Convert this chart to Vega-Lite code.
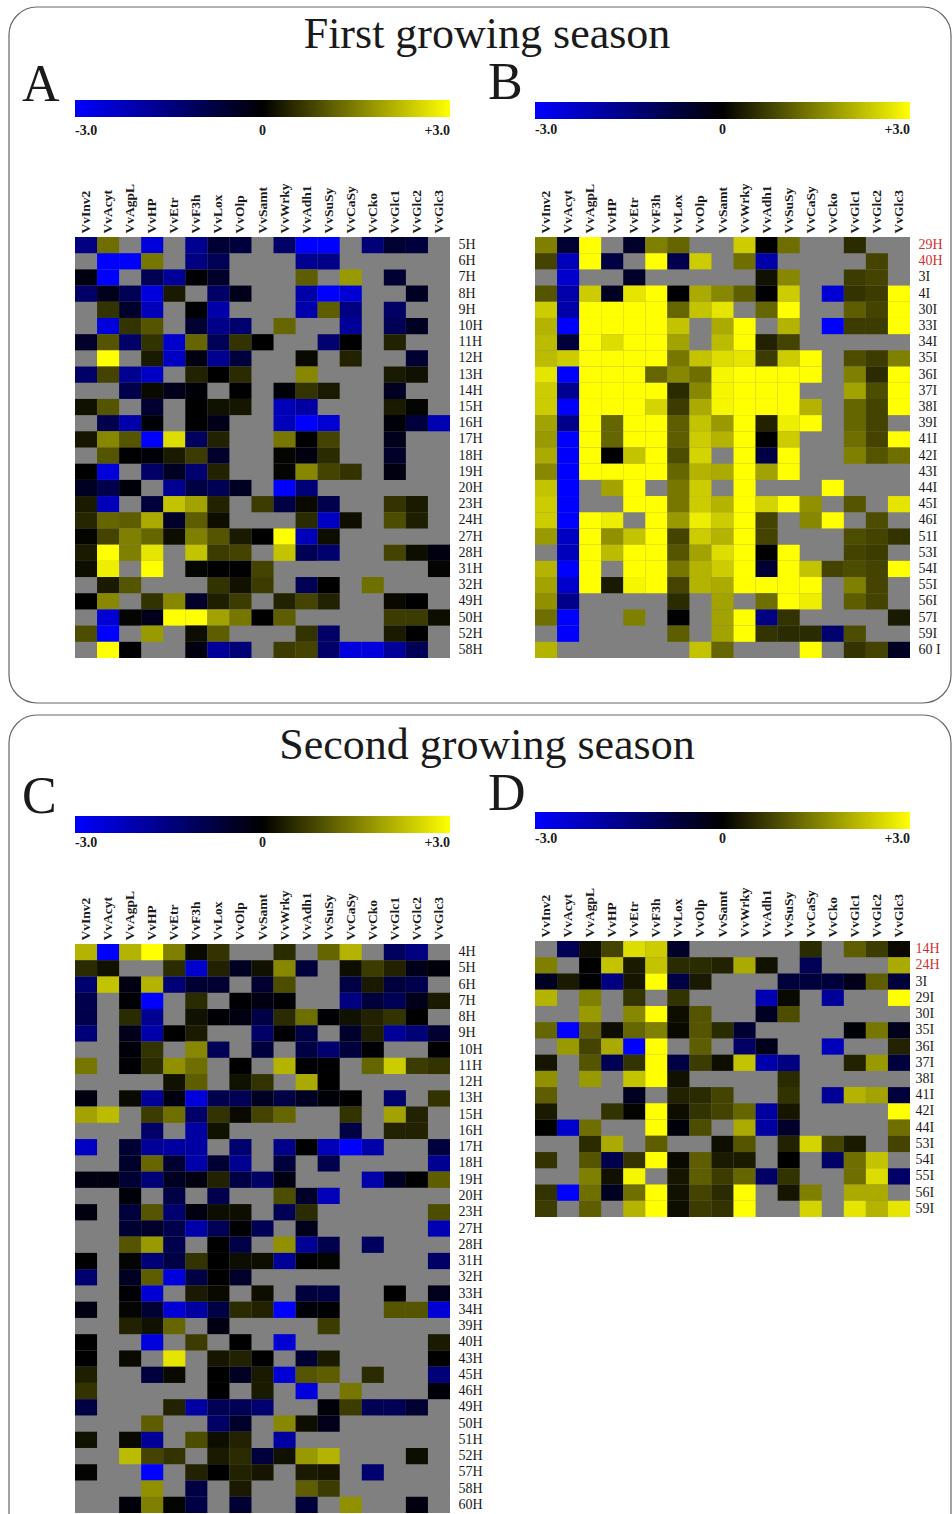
{"$schema":"https://vega.github.io/schema/vega-lite/v6.json","autosize":{"type":"none"},"padding":{"left":75,"top":237,"right":877,"bottom":1277},"background":"white","config":{"view":{"stroke":null},"font":"Liberation Serif","axis":{"title":null,"ticks":false,"domain":false,"grid":false,"labelFont":"Liberation Serif","labelColor":"#1a1a1a","labelOverlap":false},"axisX":{"labelAngle":-90,"labelFontWeight":"bold","labelFontSize":13.5,"labelPadding":4,"labelAlign":"left","labelBaseline":"middle"},"axisY":{"labelFontSize":14,"labelPadding":8},"legend":{"orient":"none","direction":"horizontal","gradientLength":375,"gradientThickness":17,"title":null,"labelFont":"Liberation Serif","labelFontWeight":"bold","labelFontSize":14,"labelColor":"#1a1a1a","gradientStrokeWidth":0},"title":{"font":"Liberation Serif","fontWeight":"normal","color":"#1a1a1a"}},
"datasets":{
"A":[{"g":"VvInv2","r":"5H","v":-1.5},{"g":"VvAcyt","r":"5H","v":1.3},{"g":"VvHP","r":"5H","v":-2.6},{"g":"VvF3h","r":"5H","v":-1.7},{"g":"VvLox","r":"5H","v":-0.6},{"g":"VvOlp","r":"5H","v":-0.7},{"g":"VvWrky","r":"5H","v":-1.2},{"g":"VvAdh1","r":"5H","v":-3},{"g":"VvSuSy","r":"5H","v":-3},{"g":"VvCko","r":"5H","v":-1.4},{"g":"VvGlc1","r":"5H","v":-0.6},{"g":"VvGlc2","r":"5H","v":-0.7},
{"g":"VvAcyt","r":"6H","v":-3},{"g":"VvAgpL","r":"6H","v":-3},{"g":"VvHP","r":"6H","v":1.4},{"g":"VvF3h","r":"6H","v":-1.5},{"g":"VvLox","r":"6H","v":-1},{"g":"VvAdh1","r":"6H","v":-1.7},{"g":"VvSuSy","r":"6H","v":-1.6},
{"g":"VvInv2","r":"7H","v":-0.2},{"g":"VvAcyt","r":"7H","v":-3},{"g":"VvHP","r":"7H","v":-1},{"g":"VvEtr","r":"7H","v":-1.8},{"g":"VvF3h","r":"7H","v":-0.05},{"g":"VvLox","r":"7H","v":-0.5},{"g":"VvAdh1","r":"7H","v":1.1},{"g":"VvCaSy","r":"7H","v":1.8},{"g":"VvGlc1","r":"7H","v":-0.6},
{"g":"VvInv2","r":"8H","v":-1.2},{"g":"VvAcyt","r":"8H","v":-0.3},{"g":"VvAgpL","r":"8H","v":-1},{"g":"VvHP","r":"8H","v":-2.6},{"g":"VvEtr","r":"8H","v":0.3},{"g":"VvLox","r":"8H","v":-1.2},{"g":"VvOlp","r":"8H","v":-0.3},{"g":"VvAdh1","r":"8H","v":-2},{"g":"VvSuSy","r":"8H","v":-3},{"g":"VvCaSy","r":"8H","v":-2.5},{"g":"VvGlc2","r":"8H","v":-0.4},
{"g":"VvAcyt","r":"9H","v":0.6},{"g":"VvAgpL","r":"9H","v":-0.5},{"g":"VvHP","r":"9H","v":-2.2},{"g":"VvF3h","r":"9H","v":0},{"g":"VvLox","r":"9H","v":-2},{"g":"VvAdh1","r":"9H","v":-2},{"g":"VvSuSy","r":"9H","v":1.1},{"g":"VvCaSy","r":"9H","v":-1.5},{"g":"VvGlc1","r":"9H","v":-1.2},
{"g":"VvAcyt","r":"10H","v":-2.6},{"g":"VvAgpL","r":"10H","v":0.6},{"g":"VvHP","r":"10H","v":1},{"g":"VvF3h","r":"10H","v":-0.6},{"g":"VvLox","r":"10H","v":-1.6},{"g":"VvOlp","r":"10H","v":-1.3},{"g":"VvWrky","r":"10H","v":1.2},{"g":"VvCaSy","r":"10H","v":-1.8},{"g":"VvGlc1","r":"10H","v":-1},{"g":"VvGlc2","r":"10H","v":-0.4},
{"g":"VvInv2","r":"11H","v":-0.5},{"g":"VvAcyt","r":"11H","v":1},{"g":"VvAgpL","r":"11H","v":-1.2},{"g":"VvHP","r":"11H","v":0.6},{"g":"VvEtr","r":"11H","v":-2.4},{"g":"VvF3h","r":"11H","v":1.2},{"g":"VvLox","r":"11H","v":-1},{"g":"VvOlp","r":"11H","v":0.6},{"g":"VvSamt","r":"11H","v":0},{"g":"VvSuSy","r":"11H","v":-1.3},{"g":"VvCaSy","r":"11H","v":0},{"g":"VvGlc1","r":"11H","v":0.4},
{"g":"VvAcyt","r":"12H","v":3},{"g":"VvHP","r":"12H","v":0.3},{"g":"VvEtr","r":"12H","v":-2.3},{"g":"VvF3h","r":"12H","v":-0.2},{"g":"VvLox","r":"12H","v":-1.7},{"g":"VvOlp","r":"12H","v":-0.7},{"g":"VvAdh1","r":"12H","v":0.1},{"g":"VvCaSy","r":"12H","v":0.4},{"g":"VvGlc2","r":"12H","v":-0.6},
{"g":"VvInv2","r":"13H","v":-1.2},{"g":"VvAcyt","r":"13H","v":0.8},{"g":"VvAgpL","r":"13H","v":-1.7},{"g":"VvHP","r":"13H","v":-2.3},{"g":"VvF3h","r":"13H","v":0.4},{"g":"VvLox","r":"13H","v":0},{"g":"VvOlp","r":"13H","v":0.5},{"g":"VvAdh1","r":"13H","v":1.6},{"g":"VvGlc1","r":"13H","v":0.3},{"g":"VvGlc2","r":"13H","v":0.2},
{"g":"VvAgpL","r":"14H","v":-0.9},{"g":"VvHP","r":"14H","v":0.1},{"g":"VvEtr","r":"14H","v":-0.3},{"g":"VvF3h","r":"14H","v":-0.1},{"g":"VvOlp","r":"14H","v":0},{"g":"VvWrky","r":"14H","v":-0.1},{"g":"VvAdh1","r":"14H","v":0.6},{"g":"VvSuSy","r":"14H","v":0.3},{"g":"VvGlc1","r":"14H","v":-0.4},
{"g":"VvInv2","r":"15H","v":0.2},{"g":"VvAcyt","r":"15H","v":1},{"g":"VvHP","r":"15H","v":-0.6},{"g":"VvF3h","r":"15H","v":0},{"g":"VvLox","r":"15H","v":0.2},{"g":"VvOlp","r":"15H","v":0.25},{"g":"VvWrky","r":"15H","v":-2.2},{"g":"VvAdh1","r":"15H","v":-1.9},{"g":"VvGlc1","r":"15H","v":0.3},{"g":"VvGlc2","r":"15H","v":0.05},
{"g":"VvAcyt","r":"16H","v":-0.9},{"g":"VvAgpL","r":"16H","v":-2},{"g":"VvHP","r":"16H","v":-0.1},{"g":"VvF3h","r":"16H","v":0},{"g":"VvLox","r":"16H","v":-0.3},{"g":"VvWrky","r":"16H","v":-2.2},{"g":"VvAdh1","r":"16H","v":-3},{"g":"VvSuSy","r":"16H","v":-2.5},{"g":"VvGlc1","r":"16H","v":-0.1},{"g":"VvGlc2","r":"16H","v":-0.7},{"g":"VvGlc3","r":"16H","v":-2.1},
{"g":"VvInv2","r":"17H","v":0.25},{"g":"VvAcyt","r":"17H","v":1.6},{"g":"VvAgpL","r":"17H","v":1},{"g":"VvHP","r":"17H","v":-3},{"g":"VvEtr","r":"17H","v":2.6},{"g":"VvF3h","r":"17H","v":-1.1},{"g":"VvLox","r":"17H","v":0.4},{"g":"VvWrky","r":"17H","v":1.4},{"g":"VvAdh1","r":"17H","v":0},{"g":"VvSuSy","r":"17H","v":0.8},{"g":"VvGlc1","r":"17H","v":-0.3},
{"g":"VvAcyt","r":"18H","v":1},{"g":"VvAgpL","r":"18H","v":0},{"g":"VvHP","r":"18H","v":-0.1},{"g":"VvEtr","r":"18H","v":0.3},{"g":"VvF3h","r":"18H","v":0.7},{"g":"VvLox","r":"18H","v":-0.5},{"g":"VvWrky","r":"18H","v":0.05},{"g":"VvAdh1","r":"18H","v":-0.2},{"g":"VvSuSy","r":"18H","v":0.5},{"g":"VvGlc1","r":"18H","v":-0.5},
{"g":"VvInv2","r":"19H","v":0},{"g":"VvAcyt","r":"19H","v":-2.6},{"g":"VvHP","r":"19H","v":-1.2},{"g":"VvEtr","r":"19H","v":-0.4},{"g":"VvF3h","r":"19H","v":-1.3},{"g":"VvLox","r":"19H","v":0.4},{"g":"VvWrky","r":"19H","v":0.05},{"g":"VvAdh1","r":"19H","v":1.6},{"g":"VvSuSy","r":"19H","v":0.8},{"g":"VvCaSy","r":"19H","v":0.6},{"g":"VvGlc1","r":"19H","v":-0.2},
{"g":"VvInv2","r":"20H","v":-0.4},{"g":"VvAcyt","r":"20H","v":-0.9},{"g":"VvAgpL","r":"20H","v":-0.1},{"g":"VvEtr","r":"20H","v":-1.7},{"g":"VvF3h","r":"20H","v":-0.8},{"g":"VvLox","r":"20H","v":-1},{"g":"VvOlp","r":"20H","v":-0.4},{"g":"VvWrky","r":"20H","v":-3},{"g":"VvAdh1","r":"20H","v":-1.4},
{"g":"VvInv2","r":"23H","v":0.3},{"g":"VvAcyt","r":"23H","v":-2.2},{"g":"VvHP","r":"23H","v":-0.7},{"g":"VvEtr","r":"23H","v":2.3},{"g":"VvF3h","r":"23H","v":1.9},{"g":"VvLox","r":"23H","v":0.4},{"g":"VvSamt","r":"23H","v":0.7},{"g":"VvWrky","r":"23H","v":-0.8},{"g":"VvAdh1","r":"23H","v":0.1},{"g":"VvSuSy","r":"23H","v":-0.9},{"g":"VvGlc1","r":"23H","v":0.6},{"g":"VvGlc2","r":"23H","v":0.3},
{"g":"VvInv2","r":"24H","v":0.45},{"g":"VvAcyt","r":"24H","v":1.2},{"g":"VvAgpL","r":"24H","v":1.1},{"g":"VvHP","r":"24H","v":2},{"g":"VvEtr","r":"24H","v":-0.5},{"g":"VvF3h","r":"24H","v":1.1},{"g":"VvLox","r":"24H","v":0.15},{"g":"VvAdh1","r":"24H","v":0.5},{"g":"VvSuSy","r":"24H","v":-2.3},{"g":"VvCaSy","r":"24H","v":0.15},{"g":"VvGlc1","r":"24H","v":0.9},{"g":"VvGlc2","r":"24H","v":0.35},
{"g":"VvInv2","r":"27H","v":0.05},{"g":"VvAcyt","r":"27H","v":0.8},{"g":"VvAgpL","r":"27H","v":1.5},{"g":"VvHP","r":"27H","v":1.2},{"g":"VvEtr","r":"27H","v":0.15},{"g":"VvF3h","r":"27H","v":1.5},{"g":"VvLox","r":"27H","v":1},{"g":"VvOlp","r":"27H","v":0.3},{"g":"VvSamt","r":"27H","v":0},{"g":"VvWrky","r":"27H","v":3},{"g":"VvAdh1","r":"27H","v":-2.2},{"g":"VvSuSy","r":"27H","v":0.15},
{"g":"VvInv2","r":"28H","v":0.3},{"g":"VvAcyt","r":"28H","v":3},{"g":"VvAgpL","r":"28H","v":1.5},{"g":"VvHP","r":"28H","v":2.7},{"g":"VvF3h","r":"28H","v":2.3},{"g":"VvLox","r":"28H","v":0.7},{"g":"VvOlp","r":"28H","v":0.8},{"g":"VvWrky","r":"28H","v":2.3},{"g":"VvAdh1","r":"28H","v":-1},{"g":"VvSuSy","r":"28H","v":-1.3},{"g":"VvGlc1","r":"28H","v":0.8},{"g":"VvGlc2","r":"28H","v":0.15},{"g":"VvGlc3","r":"28H","v":-0.2},
{"g":"VvInv2","r":"31H","v":0.15},{"g":"VvAcyt","r":"31H","v":2.8},{"g":"VvHP","r":"31H","v":3},{"g":"VvF3h","r":"31H","v":0.05},{"g":"VvLox","r":"31H","v":0},{"g":"VvOlp","r":"31H","v":0},{"g":"VvSamt","r":"31H","v":0.8},{"g":"VvGlc3","r":"31H","v":0.05},
{"g":"VvAcyt","r":"32H","v":0.3},{"g":"VvAgpL","r":"32H","v":1},{"g":"VvLox","r":"32H","v":0.6},{"g":"VvOlp","r":"32H","v":0.2},{"g":"VvSamt","r":"32H","v":0.7},{"g":"VvAdh1","r":"32H","v":-1},{"g":"VvSuSy","r":"32H","v":0},{"g":"VvCko","r":"32H","v":1.3},
{"g":"VvInv2","r":"49H","v":0},{"g":"VvAcyt","r":"49H","v":1.6},{"g":"VvHP","r":"49H","v":0.6},{"g":"VvEtr","r":"49H","v":1.6},{"g":"VvF3h","r":"49H","v":-0.5},{"g":"VvLox","r":"49H","v":0.35},{"g":"VvOlp","r":"49H","v":0.7},{"g":"VvWrky","r":"49H","v":0.4},{"g":"VvAdh1","r":"49H","v":0.8},{"g":"VvSuSy","r":"49H","v":0.4},{"g":"VvGlc1","r":"49H","v":0.1},{"g":"VvGlc2","r":"49H","v":0},
{"g":"VvAcyt","r":"50H","v":-2.5},{"g":"VvAgpL","r":"50H","v":0.05},{"g":"VvHP","r":"50H","v":-0.3},{"g":"VvEtr","r":"50H","v":3},{"g":"VvF3h","r":"50H","v":3},{"g":"VvLox","r":"50H","v":1.9},{"g":"VvOlp","r":"50H","v":1.4},{"g":"VvSamt","r":"50H","v":0},{"g":"VvWrky","r":"50H","v":1.1},{"g":"VvGlc1","r":"50H","v":0.7},{"g":"VvGlc2","r":"50H","v":0.7},{"g":"VvGlc3","r":"50H","v":0.15},
{"g":"VvInv2","r":"52H","v":0.9},{"g":"VvAcyt","r":"52H","v":-3},{"g":"VvHP","r":"52H","v":1.8},{"g":"VvF3h","r":"52H","v":0.15},{"g":"VvLox","r":"52H","v":1.1},{"g":"VvAdh1","r":"52H","v":0.6},{"g":"VvSuSy","r":"52H","v":-1.2},{"g":"VvGlc1","r":"52H","v":0.3},{"g":"VvGlc2","r":"52H","v":0},
{"g":"VvAcyt","r":"58H","v":3},{"g":"VvAgpL","r":"58H","v":0},{"g":"VvF3h","r":"58H","v":-0.2},{"g":"VvLox","r":"58H","v":-1.8},{"g":"VvOlp","r":"58H","v":-1.4},{"g":"VvWrky","r":"58H","v":0.7},{"g":"VvAdh1","r":"58H","v":0.8},{"g":"VvSuSy","r":"58H","v":-1.2},{"g":"VvCaSy","r":"58H","v":-2.6},{"g":"VvCko","r":"58H","v":-2.6},{"g":"VvGlc1","r":"58H","v":-1.8},{"g":"VvGlc2","r":"58H","v":-1}],
"B":[{"g":"VvInv2","r":"29H","v":1.5},{"g":"VvAcyt","r":"29H","v":-0.6},{"g":"VvAgpL","r":"29H","v":3},{"g":"VvEtr","r":"29H","v":-0.5},{"g":"VvF3h","r":"29H","v":1.5},{"g":"VvLox","r":"29H","v":1.2},{"g":"VvWrky","r":"29H","v":2.4},{"g":"VvAdh1","r":"29H","v":0},{"g":"VvSuSy","r":"29H","v":1.3},{"g":"VvGlc1","r":"29H","v":0.5},
{"g":"VvInv2","r":"40H","v":0.8},{"g":"VvAcyt","r":"40H","v":-2.2},{"g":"VvAgpL","r":"40H","v":3},{"g":"VvHP","r":"40H","v":-0.8},{"g":"VvF3h","r":"40H","v":3},{"g":"VvLox","r":"40H","v":-0.9},{"g":"VvOlp","r":"40H","v":2.4},{"g":"VvWrky","r":"40H","v":1.3},{"g":"VvAdh1","r":"40H","v":-2},{"g":"VvGlc2","r":"40H","v":0.8},
{"g":"VvAcyt","r":"3I","v":-2.4},{"g":"VvEtr","r":"3I","v":-0.5},{"g":"VvAdh1","r":"3I","v":0.2},{"g":"VvSuSy","r":"3I","v":1.6},{"g":"VvGlc1","r":"3I","v":0.7},{"g":"VvGlc2","r":"3I","v":0.8},
{"g":"VvInv2","r":"4I","v":1},{"g":"VvAcyt","r":"4I","v":-2},{"g":"VvAgpL","r":"4I","v":2.4},{"g":"VvHP","r":"4I","v":-0.4},{"g":"VvEtr","r":"4I","v":2.7},{"g":"VvF3h","r":"4I","v":3},{"g":"VvLox","r":"4I","v":0},{"g":"VvOlp","r":"4I","v":2},{"g":"VvSamt","r":"4I","v":1.6},{"g":"VvWrky","r":"4I","v":1.1},{"g":"VvAdh1","r":"4I","v":0},{"g":"VvSuSy","r":"4I","v":2.4},{"g":"VvCko","r":"4I","v":-2.5},{"g":"VvGlc1","r":"4I","v":0.6},{"g":"VvGlc2","r":"4I","v":0.7},{"g":"VvGlc3","r":"4I","v":3},
{"g":"VvInv2","r":"30I","v":2.4},{"g":"VvAcyt","r":"30I","v":-2},{"g":"VvAgpL","r":"30I","v":3},{"g":"VvHP","r":"30I","v":3},{"g":"VvEtr","r":"30I","v":3},{"g":"VvF3h","r":"30I","v":3},{"g":"VvLox","r":"30I","v":1.2},{"g":"VvOlp","r":"30I","v":2.3},{"g":"VvSamt","r":"30I","v":2.7},{"g":"VvAdh1","r":"30I","v":1.2},{"g":"VvSuSy","r":"30I","v":3},{"g":"VvGlc1","r":"30I","v":1.1},{"g":"VvGlc2","r":"30I","v":0.8},{"g":"VvGlc3","r":"30I","v":3},
{"g":"VvInv2","r":"33I","v":2.1},{"g":"VvAcyt","r":"33I","v":-3},{"g":"VvAgpL","r":"33I","v":3},{"g":"VvHP","r":"33I","v":3},{"g":"VvEtr","r":"33I","v":3},{"g":"VvF3h","r":"33I","v":3},{"g":"VvLox","r":"33I","v":2.3},{"g":"VvSamt","r":"33I","v":2},{"g":"VvWrky","r":"33I","v":3},{"g":"VvSuSy","r":"33I","v":2.1},{"g":"VvCko","r":"33I","v":-3},{"g":"VvGlc1","r":"33I","v":0.7},{"g":"VvGlc2","r":"33I","v":0.7},{"g":"VvGlc3","r":"33I","v":3},
{"g":"VvInv2","r":"34I","v":2.2},{"g":"VvAcyt","r":"34I","v":-0.7},{"g":"VvAgpL","r":"34I","v":3},{"g":"VvHP","r":"34I","v":2.6},{"g":"VvEtr","r":"34I","v":3},{"g":"VvF3h","r":"34I","v":3},{"g":"VvLox","r":"34I","v":1.9},{"g":"VvSamt","r":"34I","v":2.2},{"g":"VvWrky","r":"34I","v":3},{"g":"VvAdh1","r":"34I","v":0.4},{"g":"VvSuSy","r":"34I","v":0.8},
{"g":"VvInv2","r":"35I","v":2.2},{"g":"VvAcyt","r":"35I","v":2.4},{"g":"VvAgpL","r":"35I","v":3},{"g":"VvHP","r":"35I","v":3},{"g":"VvEtr","r":"35I","v":3},{"g":"VvF3h","r":"35I","v":3},{"g":"VvLox","r":"35I","v":1.4},{"g":"VvOlp","r":"35I","v":2.3},{"g":"VvSamt","r":"35I","v":2.6},{"g":"VvWrky","r":"35I","v":2.7},{"g":"VvAdh1","r":"35I","v":0.7},{"g":"VvSuSy","r":"35I","v":2.4},{"g":"VvCaSy","r":"35I","v":3},{"g":"VvGlc1","r":"35I","v":0.9},{"g":"VvGlc2","r":"35I","v":0.7},{"g":"VvGlc3","r":"35I","v":1.5},
{"g":"VvInv2","r":"36I","v":2.7},{"g":"VvAcyt","r":"36I","v":-3},{"g":"VvAgpL","r":"36I","v":3},{"g":"VvHP","r":"36I","v":3},{"g":"VvEtr","r":"36I","v":3},{"g":"VvF3h","r":"36I","v":1.2},{"g":"VvLox","r":"36I","v":1.6},{"g":"VvOlp","r":"36I","v":1.3},{"g":"VvSamt","r":"36I","v":2.9},{"g":"VvWrky","r":"36I","v":3},{"g":"VvAdh1","r":"36I","v":3},{"g":"VvSuSy","r":"36I","v":3},{"g":"VvCaSy","r":"36I","v":3},{"g":"VvGlc1","r":"36I","v":1.5},{"g":"VvGlc2","r":"36I","v":0.5},{"g":"VvGlc3","r":"36I","v":3},
{"g":"VvInv2","r":"37I","v":2.4},{"g":"VvAcyt","r":"37I","v":-1.7},{"g":"VvAgpL","r":"37I","v":3},{"g":"VvHP","r":"37I","v":3},{"g":"VvEtr","r":"37I","v":3},{"g":"VvF3h","r":"37I","v":3},{"g":"VvLox","r":"37I","v":0.5},{"g":"VvOlp","r":"37I","v":1.6},{"g":"VvSamt","r":"37I","v":2.9},{"g":"VvWrky","r":"37I","v":3},{"g":"VvAdh1","r":"37I","v":3},{"g":"VvSuSy","r":"37I","v":3},{"g":"VvGlc1","r":"37I","v":1.9},{"g":"VvGlc2","r":"37I","v":0.9},{"g":"VvGlc3","r":"37I","v":3},
{"g":"VvInv2","r":"38I","v":2.4},{"g":"VvAcyt","r":"38I","v":-3},{"g":"VvAgpL","r":"38I","v":3},{"g":"VvHP","r":"38I","v":3},{"g":"VvEtr","r":"38I","v":3},{"g":"VvF3h","r":"38I","v":2.5},{"g":"VvLox","r":"38I","v":0.7},{"g":"VvOlp","r":"38I","v":2},{"g":"VvSamt","r":"38I","v":2.9},{"g":"VvWrky","r":"38I","v":3},{"g":"VvAdh1","r":"38I","v":3},{"g":"VvSuSy","r":"38I","v":3},{"g":"VvCaSy","r":"38I","v":2.1},{"g":"VvGlc1","r":"38I","v":1.2},{"g":"VvGlc2","r":"38I","v":0.8},{"g":"VvGlc3","r":"38I","v":3},
{"g":"VvInv2","r":"39I","v":1.9},{"g":"VvAcyt","r":"39I","v":-1.6},{"g":"VvAgpL","r":"39I","v":3},{"g":"VvHP","r":"39I","v":1.2},{"g":"VvEtr","r":"39I","v":3},{"g":"VvF3h","r":"39I","v":3},{"g":"VvLox","r":"39I","v":1.1},{"g":"VvOlp","r":"39I","v":2.3},{"g":"VvSamt","r":"39I","v":1.8},{"g":"VvWrky","r":"39I","v":3},{"g":"VvAdh1","r":"39I","v":0.4},{"g":"VvSuSy","r":"39I","v":2.8},{"g":"VvCaSy","r":"39I","v":3},{"g":"VvGlc1","r":"39I","v":1.2},{"g":"VvGlc2","r":"39I","v":0.8},
{"g":"VvInv2","r":"41I","v":1.8},{"g":"VvAcyt","r":"41I","v":-3},{"g":"VvAgpL","r":"41I","v":3},{"g":"VvHP","r":"41I","v":1.2},{"g":"VvEtr","r":"41I","v":3},{"g":"VvF3h","r":"41I","v":3},{"g":"VvLox","r":"41I","v":1.1},{"g":"VvOlp","r":"41I","v":2.4},{"g":"VvSamt","r":"41I","v":2.1},{"g":"VvWrky","r":"41I","v":3},{"g":"VvAdh1","r":"41I","v":0},{"g":"VvSuSy","r":"41I","v":2.4},{"g":"VvGlc1","r":"41I","v":1.3},{"g":"VvGlc2","r":"41I","v":0.8},{"g":"VvGlc3","r":"41I","v":3},
{"g":"VvInv2","r":"42I","v":2},{"g":"VvAcyt","r":"42I","v":-3},{"g":"VvAgpL","r":"42I","v":3},{"g":"VvHP","r":"42I","v":0},{"g":"VvEtr","r":"42I","v":2.3},{"g":"VvF3h","r":"42I","v":3},{"g":"VvLox","r":"42I","v":0.9},{"g":"VvOlp","r":"42I","v":2.5},{"g":"VvWrky","r":"42I","v":3},{"g":"VvAdh1","r":"42I","v":-0.8},{"g":"VvSuSy","r":"42I","v":3},{"g":"VvGlc1","r":"42I","v":1.5},{"g":"VvGlc2","r":"42I","v":1},{"g":"VvGlc3","r":"42I","v":1.3},
{"g":"VvInv2","r":"43I","v":1.6},{"g":"VvAcyt","r":"43I","v":-3},{"g":"VvAgpL","r":"43I","v":3},{"g":"VvHP","r":"43I","v":3},{"g":"VvEtr","r":"43I","v":3},{"g":"VvF3h","r":"43I","v":3},{"g":"VvLox","r":"43I","v":1.2},{"g":"VvOlp","r":"43I","v":2.1},{"g":"VvSamt","r":"43I","v":2},{"g":"VvWrky","r":"43I","v":3},{"g":"VvAdh1","r":"43I","v":1.9},{"g":"VvSuSy","r":"43I","v":3},
{"g":"VvInv2","r":"44I","v":2.3},{"g":"VvAcyt","r":"44I","v":-3},{"g":"VvHP","r":"44I","v":1.9},{"g":"VvEtr","r":"44I","v":3},{"g":"VvLox","r":"44I","v":1.4},{"g":"VvOlp","r":"44I","v":2.4},{"g":"VvWrky","r":"44I","v":3},{"g":"VvCko","r":"44I","v":3},
{"g":"VvInv2","r":"45I","v":2.4},{"g":"VvAcyt","r":"45I","v":-3},{"g":"VvEtr","r":"45I","v":3},{"g":"VvF3h","r":"45I","v":3},{"g":"VvLox","r":"45I","v":1.4},{"g":"VvOlp","r":"45I","v":2.4},{"g":"VvSamt","r":"45I","v":2.1},{"g":"VvWrky","r":"45I","v":3},{"g":"VvAdh1","r":"45I","v":2.5},{"g":"VvSuSy","r":"45I","v":3},{"g":"VvCaSy","r":"45I","v":1.7},{"g":"VvGlc1","r":"45I","v":1},{"g":"VvGlc3","r":"45I","v":2.7},
{"g":"VvInv2","r":"46I","v":2.4},{"g":"VvAcyt","r":"46I","v":-3},{"g":"VvAgpL","r":"46I","v":3},{"g":"VvHP","r":"46I","v":2.8},{"g":"VvF3h","r":"46I","v":3},{"g":"VvLox","r":"46I","v":1.8},{"g":"VvOlp","r":"46I","v":2.8},{"g":"VvSamt","r":"46I","v":2.4},{"g":"VvWrky","r":"46I","v":3},{"g":"VvAdh1","r":"46I","v":0.8},{"g":"VvCaSy","r":"46I","v":1.6},{"g":"VvCko","r":"46I","v":3},{"g":"VvGlc2","r":"46I","v":0.9},
{"g":"VvInv2","r":"51I","v":1.8},{"g":"VvAcyt","r":"51I","v":-2.3},{"g":"VvAgpL","r":"51I","v":3},{"g":"VvHP","r":"51I","v":1.7},{"g":"VvEtr","r":"51I","v":2.3},{"g":"VvF3h","r":"51I","v":3},{"g":"VvLox","r":"51I","v":0.8},{"g":"VvOlp","r":"51I","v":2.4},{"g":"VvSamt","r":"51I","v":2.1},{"g":"VvWrky","r":"51I","v":3},{"g":"VvAdh1","r":"51I","v":0.8},{"g":"VvGlc1","r":"51I","v":0.9},{"g":"VvGlc2","r":"51I","v":0.8},{"g":"VvGlc3","r":"51I","v":0.6},
{"g":"VvAcyt","r":"53I","v":-2.2},{"g":"VvAgpL","r":"53I","v":3},{"g":"VvHP","r":"53I","v":2.2},{"g":"VvEtr","r":"53I","v":3},{"g":"VvF3h","r":"53I","v":3},{"g":"VvLox","r":"53I","v":1},{"g":"VvOlp","r":"53I","v":1.9},{"g":"VvSamt","r":"53I","v":2.6},{"g":"VvWrky","r":"53I","v":3},{"g":"VvAdh1","r":"53I","v":0},{"g":"VvSuSy","r":"53I","v":3},{"g":"VvGlc1","r":"53I","v":0.8},{"g":"VvGlc2","r":"53I","v":0.7},
{"g":"VvInv2","r":"54I","v":2.1},{"g":"VvAcyt","r":"54I","v":-3},{"g":"VvAgpL","r":"54I","v":3},{"g":"VvEtr","r":"54I","v":3},{"g":"VvF3h","r":"54I","v":3},{"g":"VvLox","r":"54I","v":1.4},{"g":"VvOlp","r":"54I","v":2.1},{"g":"VvSamt","r":"54I","v":2.4},{"g":"VvWrky","r":"54I","v":3},{"g":"VvAdh1","r":"54I","v":-0.6},{"g":"VvSuSy","r":"54I","v":3},{"g":"VvCaSy","r":"54I","v":2.3},{"g":"VvCko","r":"54I","v":0.8},{"g":"VvGlc1","r":"54I","v":0.9},{"g":"VvGlc2","r":"54I","v":0.8},{"g":"VvGlc3","r":"54I","v":3},
{"g":"VvInv2","r":"55I","v":1.9},{"g":"VvAcyt","r":"55I","v":-2.4},{"g":"VvAgpL","r":"55I","v":3},{"g":"VvHP","r":"55I","v":0.3},{"g":"VvEtr","r":"55I","v":2.9},{"g":"VvF3h","r":"55I","v":3},{"g":"VvLox","r":"55I","v":0.8},{"g":"VvOlp","r":"55I","v":2.1},{"g":"VvSamt","r":"55I","v":2},{"g":"VvWrky","r":"55I","v":3},{"g":"VvAdh1","r":"55I","v":3},{"g":"VvSuSy","r":"55I","v":3},{"g":"VvCaSy","r":"55I","v":3},{"g":"VvGlc1","r":"55I","v":1.5},{"g":"VvGlc2","r":"55I","v":0.8},
{"g":"VvInv2","r":"56I","v":1.7},{"g":"VvAcyt","r":"56I","v":-1.6},{"g":"VvLox","r":"56I","v":0.5},{"g":"VvSamt","r":"56I","v":1.9},{"g":"VvAdh1","r":"56I","v":1.3},{"g":"VvSuSy","r":"56I","v":3},{"g":"VvCaSy","r":"56I","v":2.8},{"g":"VvGlc1","r":"56I","v":1.1},{"g":"VvGlc2","r":"56I","v":0.8},
{"g":"VvInv2","r":"57I","v":1.3},{"g":"VvAcyt","r":"57I","v":-3},{"g":"VvEtr","r":"57I","v":1.5},{"g":"VvLox","r":"57I","v":0},{"g":"VvSamt","r":"57I","v":1.9},{"g":"VvWrky","r":"57I","v":3},{"g":"VvAdh1","r":"57I","v":-1.5},{"g":"VvSuSy","r":"57I","v":0.6},{"g":"VvGlc3","r":"57I","v":0.3},
{"g":"VvAcyt","r":"59I","v":-3},{"g":"VvLox","r":"59I","v":1.1},{"g":"VvSamt","r":"59I","v":1.9},{"g":"VvWrky","r":"59I","v":3},{"g":"VvAdh1","r":"59I","v":0.6},{"g":"VvSuSy","r":"59I","v":0.5},{"g":"VvCaSy","r":"59I","v":0.5},{"g":"VvCko","r":"59I","v":-1.3},{"g":"VvGlc1","r":"59I","v":0.9},
{"g":"VvInv2","r":"60 I","v":2.1},{"g":"VvOlp","r":"60 I","v":2.3},{"g":"VvSamt","r":"60 I","v":1.2},{"g":"VvCaSy","r":"60 I","v":3},{"g":"VvGlc1","r":"60 I","v":0.6},{"g":"VvGlc2","r":"60 I","v":0.8},{"g":"VvGlc3","r":"60 I","v":-0.4}],
"C":[{"g":"VvInv2","r":"4H","v":2.1},{"g":"VvAcyt","r":"4H","v":-3},{"g":"VvAgpL","r":"4H","v":2.1},{"g":"VvHP","r":"4H","v":3},{"g":"VvEtr","r":"4H","v":1.5},{"g":"VvF3h","r":"4H","v":0.1},{"g":"VvLox","r":"4H","v":0.6},{"g":"VvWrky","r":"4H","v":0.5},{"g":"VvSuSy","r":"4H","v":1.2},{"g":"VvCaSy","r":"4H","v":2.1},{"g":"VvGlc1","r":"4H","v":-1.1},{"g":"VvGlc2","r":"4H","v":-1.5},
{"g":"VvInv2","r":"5H","v":0.5},{"g":"VvAcyt","r":"5H","v":0.2},{"g":"VvEtr","r":"5H","v":0.5},{"g":"VvF3h","r":"5H","v":-2.4},{"g":"VvLox","r":"5H","v":0.4},{"g":"VvOlp","r":"5H","v":-0.4},{"g":"VvSamt","r":"5H","v":0.2},{"g":"VvWrky","r":"5H","v":1.6},{"g":"VvAdh1","r":"5H","v":-0.7},{"g":"VvCaSy","r":"5H","v":0.15},{"g":"VvCko","r":"5H","v":0.7},{"g":"VvGlc1","r":"5H","v":0.4},{"g":"VvGlc2","r":"5H","v":-0.3},{"g":"VvGlc3","r":"5H","v":-0.1},
{"g":"VvInv2","r":"6H","v":-1.3},{"g":"VvAcyt","r":"6H","v":2.3},{"g":"VvAgpL","r":"6H","v":-0.2},{"g":"VvHP","r":"6H","v":2.1},{"g":"VvEtr","r":"6H","v":-1.4},{"g":"VvF3h","r":"6H","v":-0.6},{"g":"VvLox","r":"6H","v":-0.6},{"g":"VvSamt","r":"6H","v":-0.6},{"g":"VvWrky","r":"6H","v":0.9},{"g":"VvCaSy","r":"6H","v":-0.8},{"g":"VvCko","r":"6H","v":0.3},{"g":"VvGlc1","r":"6H","v":-0.7},{"g":"VvGlc2","r":"6H","v":-0.9},
{"g":"VvInv2","r":"7H","v":-0.9},{"g":"VvAgpL","r":"7H","v":-0.05},{"g":"VvHP","r":"7H","v":-3},{"g":"VvF3h","r":"7H","v":0.5},{"g":"VvOlp","r":"7H","v":-0.05},{"g":"VvSamt","r":"7H","v":-0.2},{"g":"VvWrky","r":"7H","v":-0.05},{"g":"VvCaSy","r":"7H","v":-1.5},{"g":"VvCko","r":"7H","v":-0.7},{"g":"VvGlc1","r":"7H","v":-1},{"g":"VvGlc2","r":"7H","v":-0.3},{"g":"VvGlc3","r":"7H","v":0.3},
{"g":"VvInv2","r":"8H","v":-0.9},{"g":"VvAgpL","r":"8H","v":0.5},{"g":"VvHP","r":"8H","v":-1.7},{"g":"VvF3h","r":"8H","v":0.2},{"g":"VvLox","r":"8H","v":-0.05},{"g":"VvOlp","r":"8H","v":-0.2},{"g":"VvSamt","r":"8H","v":-0.8},{"g":"VvWrky","r":"8H","v":0.5},{"g":"VvAdh1","r":"8H","v":1.3},{"g":"VvSuSy","r":"8H","v":-0.05},{"g":"VvCaSy","r":"8H","v":0.2},{"g":"VvCko","r":"8H","v":0.4},{"g":"VvGlc1","r":"8H","v":0.6},{"g":"VvGlc2","r":"8H","v":0},
{"g":"VvInv2","r":"9H","v":-1.4},{"g":"VvAgpL","r":"9H","v":-0.3},{"g":"VvHP","r":"9H","v":-2},{"g":"VvEtr","r":"9H","v":0},{"g":"VvF3h","r":"9H","v":0.3},{"g":"VvSamt","r":"9H","v":-1.2},{"g":"VvWrky","r":"9H","v":-0.05},{"g":"VvAdh1","r":"9H","v":-0.8},{"g":"VvCaSy","r":"9H","v":-0.5},{"g":"VvCko","r":"9H","v":0.35},{"g":"VvGlc1","r":"9H","v":-1.8},{"g":"VvGlc2","r":"9H","v":-1.4},{"g":"VvGlc3","r":"9H","v":-0.6},
{"g":"VvAgpL","r":"10H","v":-0.1},{"g":"VvHP","r":"10H","v":0.6},{"g":"VvF3h","r":"10H","v":1.6},{"g":"VvLox","r":"10H","v":-1},{"g":"VvSamt","r":"10H","v":-0.7},{"g":"VvAdh1","r":"10H","v":-0.8},{"g":"VvSuSy","r":"10H","v":-1.3},{"g":"VvCaSy","r":"10H","v":-0.7},{"g":"VvCko","r":"10H","v":-0.05},{"g":"VvGlc3","r":"10H","v":0},
{"g":"VvInv2","r":"11H","v":1.4},{"g":"VvAgpL","r":"11H","v":-0.05},{"g":"VvHP","r":"11H","v":0.5},{"g":"VvEtr","r":"11H","v":1.7},{"g":"VvF3h","r":"11H","v":1.3},{"g":"VvOlp","r":"11H","v":0},{"g":"VvWrky","r":"11H","v":2.1},{"g":"VvAdh1","r":"11H","v":-0.05},{"g":"VvSuSy","r":"11H","v":0},{"g":"VvCko","r":"11H","v":1.2},{"g":"VvGlc1","r":"11H","v":2.4},{"g":"VvGlc2","r":"11H","v":0.7},{"g":"VvGlc3","r":"11H","v":0.6},
{"g":"VvEtr","r":"12H","v":0.2},{"g":"VvF3h","r":"12H","v":1.1},{"g":"VvOlp","r":"12H","v":0.2},{"g":"VvSamt","r":"12H","v":0.6},{"g":"VvAdh1","r":"12H","v":2},{"g":"VvSuSy","r":"12H","v":0},
{"g":"VvInv2","r":"13H","v":-0.2},{"g":"VvAgpL","r":"13H","v":0.1},{"g":"VvHP","r":"13H","v":-1.8},{"g":"VvEtr","r":"13H","v":-0.2},{"g":"VvF3h","r":"13H","v":-2.6},{"g":"VvLox","r":"13H","v":-0.9},{"g":"VvOlp","r":"13H","v":-1},{"g":"VvSamt","r":"13H","v":-0.4},{"g":"VvWrky","r":"13H","v":-0.8},{"g":"VvAdh1","r":"13H","v":-0.4},{"g":"VvSuSy","r":"13H","v":-0.1},{"g":"VvCaSy","r":"13H","v":0},{"g":"VvGlc1","r":"13H","v":-1.3},{"g":"VvGlc3","r":"13H","v":0.6},
{"g":"VvInv2","r":"15H","v":1.9},{"g":"VvAcyt","r":"15H","v":2.2},{"g":"VvHP","r":"15H","v":0.7},{"g":"VvEtr","r":"15H","v":1.3},{"g":"VvF3h","r":"15H","v":-1.2},{"g":"VvLox","r":"15H","v":0.6},{"g":"VvOlp","r":"15H","v":0.1},{"g":"VvSamt","r":"15H","v":0.8},{"g":"VvWrky","r":"15H","v":1.2},{"g":"VvCaSy","r":"15H","v":0.6},{"g":"VvGlc1","r":"15H","v":1.9},{"g":"VvGlc2","r":"15H","v":0.4},
{"g":"VvHP","r":"16H","v":-1.2},{"g":"VvF3h","r":"16H","v":-1.9},{"g":"VvLox","r":"16H","v":0.2},{"g":"VvCaSy","r":"16H","v":-0.8},{"g":"VvGlc1","r":"16H","v":0.4},{"g":"VvGlc2","r":"16H","v":0.4},
{"g":"VvInv2","r":"17H","v":-2.3},{"g":"VvAgpL","r":"17H","v":-0.6},{"g":"VvHP","r":"17H","v":-1.8},{"g":"VvEtr","r":"17H","v":-1.9},{"g":"VvF3h","r":"17H","v":-1.9},{"g":"VvOlp","r":"17H","v":-1.3},{"g":"VvWrky","r":"17H","v":-1.6},{"g":"VvAdh1","r":"17H","v":0},{"g":"VvSuSy","r":"17H","v":-2.2},{"g":"VvCaSy","r":"17H","v":-3},{"g":"VvCko","r":"17H","v":-2},{"g":"VvGlc3","r":"17H","v":-0.7},
{"g":"VvAgpL","r":"18H","v":-0.5},{"g":"VvHP","r":"18H","v":1.2},{"g":"VvEtr","r":"18H","v":-0.6},{"g":"VvF3h","r":"18H","v":-2},{"g":"VvLox","r":"18H","v":-0.6},{"g":"VvOlp","r":"18H","v":-1.7},{"g":"VvWrky","r":"18H","v":-0.7},{"g":"VvSuSy","r":"18H","v":-0.9},{"g":"VvGlc3","r":"18H","v":-1.7},
{"g":"VvInv2","r":"19H","v":-0.2},{"g":"VvAcyt","r":"19H","v":-0.2},{"g":"VvAgpL","r":"19H","v":-0.6},{"g":"VvHP","r":"19H","v":-1.4},{"g":"VvEtr","r":"19H","v":-0.4},{"g":"VvF3h","r":"19H","v":-0.2},{"g":"VvLox","r":"19H","v":0.4},{"g":"VvOlp","r":"19H","v":-0.8},{"g":"VvSamt","r":"19H","v":-1.2},{"g":"VvWrky","r":"19H","v":-0.2},{"g":"VvCko","r":"19H","v":-2},{"g":"VvGlc1","r":"19H","v":-0.4},{"g":"VvGlc2","r":"19H","v":0},{"g":"VvGlc3","r":"19H","v":1.1},
{"g":"VvAgpL","r":"20H","v":-0.1},{"g":"VvEtr","r":"20H","v":-0.8},{"g":"VvLox","r":"20H","v":-0.9},{"g":"VvWrky","r":"20H","v":0.9},{"g":"VvAdh1","r":"20H","v":-0.5},{"g":"VvSuSy","r":"20H","v":-2.2},
{"g":"VvInv2","r":"23H","v":-0.2},{"g":"VvAgpL","r":"23H","v":-0.7},{"g":"VvHP","r":"23H","v":1},{"g":"VvEtr","r":"23H","v":-1.3},{"g":"VvF3h","r":"23H","v":-0.2},{"g":"VvLox","r":"23H","v":0.15},{"g":"VvOlp","r":"23H","v":0.15},{"g":"VvWrky","r":"23H","v":-1},{"g":"VvAdh1","r":"23H","v":0.5},{"g":"VvGlc3","r":"23H","v":0.9},
{"g":"VvAgpL","r":"27H","v":-0.6},{"g":"VvHP","r":"27H","v":-0.5},{"g":"VvEtr","r":"27H","v":-0.9},{"g":"VvF3h","r":"27H","v":-2},{"g":"VvLox","r":"27H","v":-1},{"g":"VvOlp","r":"27H","v":-0.05},{"g":"VvSamt","r":"27H","v":-1},{"g":"VvAdh1","r":"27H","v":-0.3},{"g":"VvGlc3","r":"27H","v":-2.1},
{"g":"VvAgpL","r":"28H","v":1},{"g":"VvHP","r":"28H","v":1.8},{"g":"VvEtr","r":"28H","v":-0.9},{"g":"VvLox","r":"28H","v":0},{"g":"VvOlp","r":"28H","v":-0.8},{"g":"VvWrky","r":"28H","v":1.7},{"g":"VvAdh1","r":"28H","v":-1.8},{"g":"VvSuSy","r":"28H","v":-0.9},{"g":"VvCko","r":"28H","v":-1.1},
{"g":"VvInv2","r":"31H","v":0},{"g":"VvAgpL","r":"31H","v":0.05},{"g":"VvHP","r":"31H","v":-1.4},{"g":"VvEtr","r":"31H","v":-0.8},{"g":"VvF3h","r":"31H","v":0.6},{"g":"VvLox","r":"31H","v":0},{"g":"VvOlp","r":"31H","v":0.15},{"g":"VvSamt","r":"31H","v":0.15},{"g":"VvWrky","r":"31H","v":-1.8},{"g":"VvAdh1","r":"31H","v":0},{"g":"VvSuSy","r":"31H","v":0.05},{"g":"VvGlc3","r":"31H","v":-1.2},
{"g":"VvInv2","r":"32H","v":-1.3},{"g":"VvAgpL","r":"32H","v":-0.4},{"g":"VvHP","r":"32H","v":1.1},{"g":"VvEtr","r":"32H","v":-2.6},{"g":"VvF3h","r":"32H","v":-0.8},{"g":"VvLox","r":"32H","v":0},{"g":"VvOlp","r":"32H","v":-0.5},
{"g":"VvAgpL","r":"33H","v":-0.05},{"g":"VvHP","r":"33H","v":-2.5},{"g":"VvF3h","r":"33H","v":0.3},{"g":"VvLox","r":"33H","v":0.1},{"g":"VvSamt","r":"33H","v":0.15},{"g":"VvAdh1","r":"33H","v":-0.7},{"g":"VvSuSy","r":"33H","v":-0.8},{"g":"VvGlc1","r":"33H","v":0},{"g":"VvGlc3","r":"33H","v":-0.3},
{"g":"VvInv2","r":"34H","v":-0.2},{"g":"VvAgpL","r":"34H","v":0.05},{"g":"VvHP","r":"34H","v":-0.6},{"g":"VvEtr","r":"34H","v":-2.5},{"g":"VvF3h","r":"34H","v":-1.9},{"g":"VvLox","r":"34H","v":-0.8},{"g":"VvOlp","r":"34H","v":0.5},{"g":"VvSamt","r":"34H","v":0.4},{"g":"VvWrky","r":"34H","v":-3},{"g":"VvAdh1","r":"34H","v":-0.1},{"g":"VvSuSy","r":"34H","v":0},{"g":"VvGlc1","r":"34H","v":1},{"g":"VvGlc2","r":"34H","v":1},{"g":"VvGlc3","r":"34H","v":-2.5},
{"g":"VvAgpL","r":"39H","v":0.4},{"g":"VvHP","r":"39H","v":0.2},{"g":"VvEtr","r":"39H","v":1.2},{"g":"VvLox","r":"39H","v":-0.2},{"g":"VvSuSy","r":"39H","v":0.7},
{"g":"VvInv2","r":"40H","v":0},{"g":"VvHP","r":"40H","v":-2.6},{"g":"VvF3h","r":"40H","v":0.7},{"g":"VvOlp","r":"40H","v":0},{"g":"VvWrky","r":"40H","v":-2.5},{"g":"VvGlc3","r":"40H","v":0.3},
{"g":"VvInv2","r":"43H","v":0},{"g":"VvAgpL","r":"43H","v":0.1},{"g":"VvEtr","r":"43H","v":2.7},{"g":"VvLox","r":"43H","v":0.25},{"g":"VvOlp","r":"43H","v":0.4},{"g":"VvSamt","r":"43H","v":0},{"g":"VvAdh1","r":"43H","v":-0.6},{"g":"VvSuSy","r":"43H","v":0.3},{"g":"VvGlc3","r":"43H","v":0},
{"g":"VvInv2","r":"45H","v":0.35},{"g":"VvHP","r":"45H","v":-0.7},{"g":"VvEtr","r":"45H","v":0.1},{"g":"VvLox","r":"45H","v":0},{"g":"VvOlp","r":"45H","v":-0.4},{"g":"VvSamt","r":"45H","v":0.3},{"g":"VvWrky","r":"45H","v":-2.5},{"g":"VvAdh1","r":"45H","v":1},{"g":"VvSuSy","r":"45H","v":1.1},{"g":"VvCko","r":"45H","v":0.5},{"g":"VvGlc3","r":"45H","v":-1.4},
{"g":"VvInv2","r":"46H","v":0.6},{"g":"VvLox","r":"46H","v":0},{"g":"VvSamt","r":"46H","v":0.3},{"g":"VvAdh1","r":"46H","v":-2.6},{"g":"VvCaSy","r":"46H","v":1.4},{"g":"VvGlc3","r":"46H","v":-0.1},
{"g":"VvInv2","r":"49H","v":-0.8},{"g":"VvEtr","r":"49H","v":0.4},{"g":"VvF3h","r":"49H","v":-1.9},{"g":"VvLox","r":"49H","v":-1},{"g":"VvOlp","r":"49H","v":-1},{"g":"VvSamt","r":"49H","v":-1.3},{"g":"VvSuSy","r":"49H","v":-0.1},{"g":"VvCaSy","r":"49H","v":0.7},{"g":"VvCko","r":"49H","v":-1},{"g":"VvGlc1","r":"49H","v":-1},{"g":"VvGlc2","r":"49H","v":-0.6},
{"g":"VvHP","r":"50H","v":1.1},{"g":"VvLox","r":"50H","v":-1.2},{"g":"VvOlp","r":"50H","v":-0.5},{"g":"VvWrky","r":"50H","v":1.6},{"g":"VvAdh1","r":"50H","v":0.15},{"g":"VvSuSy","r":"50H","v":-0.3},
{"g":"VvInv2","r":"51H","v":0.2},{"g":"VvAgpL","r":"51H","v":0.1},{"g":"VvHP","r":"51H","v":-1.8},{"g":"VvF3h","r":"51H","v":0.9},{"g":"VvLox","r":"51H","v":0.15},{"g":"VvOlp","r":"51H","v":0.4},{"g":"VvWrky","r":"51H","v":-1.9},
{"g":"VvAgpL","r":"52H","v":2.2},{"g":"VvHP","r":"52H","v":0.8},{"g":"VvEtr","r":"52H","v":0.6},{"g":"VvLox","r":"52H","v":0.3},{"g":"VvOlp","r":"52H","v":0.5},{"g":"VvSamt","r":"52H","v":-0.7},{"g":"VvWrky","r":"52H","v":0.2},{"g":"VvAdh1","r":"52H","v":1.8},{"g":"VvSuSy","r":"52H","v":2.1},{"g":"VvGlc2","r":"52H","v":0.15},
{"g":"VvInv2","r":"57H","v":0.05},{"g":"VvHP","r":"57H","v":-3},{"g":"VvF3h","r":"57H","v":0.4},{"g":"VvLox","r":"57H","v":0},{"g":"VvOlp","r":"57H","v":0.4},{"g":"VvSamt","r":"57H","v":0.25},{"g":"VvAdh1","r":"57H","v":0.3},{"g":"VvSuSy","r":"57H","v":0.25},{"g":"VvCko","r":"57H","v":-1.3},
{"g":"VvHP","r":"58H","v":1.7},{"g":"VvF3h","r":"58H","v":-0.8},{"g":"VvOlp","r":"58H","v":0.3},{"g":"VvAdh1","r":"58H","v":1.1},{"g":"VvSuSy","r":"58H","v":0.7},
{"g":"VvAgpL","r":"60H","v":-0.1},{"g":"VvHP","r":"60H","v":1.5},{"g":"VvEtr","r":"60H","v":0.05},{"g":"VvF3h","r":"60H","v":-0.8},{"g":"VvOlp","r":"60H","v":-0.6},{"g":"VvAdh1","r":"60H","v":-0.7},{"g":"VvCaSy","r":"60H","v":1.7},{"g":"VvGlc2","r":"60H","v":-0.2}],
"D":[{"g":"VvAcyt","r":"14H","v":-1},{"g":"VvAgpL","r":"14H","v":0.15},{"g":"VvHP","r":"14H","v":0.8},{"g":"VvEtr","r":"14H","v":2.6},{"g":"VvF3h","r":"14H","v":2.4},{"g":"VvLox","r":"14H","v":-0.5},{"g":"VvCaSy","r":"14H","v":0.5},{"g":"VvGlc1","r":"14H","v":1.1},{"g":"VvGlc2","r":"14H","v":0.7},{"g":"VvGlc3","r":"14H","v":0.1},
{"g":"VvInv2","r":"24H","v":1.5},{"g":"VvAgpL","r":"24H","v":0},{"g":"VvHP","r":"24H","v":2.3},{"g":"VvEtr","r":"24H","v":0.3},{"g":"VvF3h","r":"24H","v":2.3},{"g":"VvLox","r":"24H","v":0.5},{"g":"VvOlp","r":"24H","v":0.5},{"g":"VvSamt","r":"24H","v":0.4},{"g":"VvWrky","r":"24H","v":2},{"g":"VvAdh1","r":"24H","v":0.2},{"g":"VvCaSy","r":"24H","v":-1},{"g":"VvGlc3","r":"24H","v":2},
{"g":"VvInv2","r":"3I","v":-0.4},{"g":"VvAcyt","r":"3I","v":0.3},{"g":"VvAgpL","r":"3I","v":0},{"g":"VvHP","r":"3I","v":-1.5},{"g":"VvEtr","r":"3I","v":0.25},{"g":"VvF3h","r":"3I","v":3},{"g":"VvLox","r":"3I","v":-0.8},{"g":"VvOlp","r":"3I","v":0.3},{"g":"VvSuSy","r":"3I","v":-0.7},{"g":"VvCaSy","r":"3I","v":-0.7},{"g":"VvCko","r":"3I","v":-0.7},{"g":"VvGlc1","r":"3I","v":-0.3},{"g":"VvGlc2","r":"3I","v":1.1},{"g":"VvGlc3","r":"3I","v":-0.7},
{"g":"VvInv2","r":"29I","v":2.1},{"g":"VvAgpL","r":"29I","v":1.5},{"g":"VvEtr","r":"29I","v":0.6},{"g":"VvLox","r":"29I","v":0.6},{"g":"VvAdh1","r":"29I","v":-2.1},{"g":"VvSuSy","r":"29I","v":0.1},{"g":"VvCko","r":"29I","v":-1.8},{"g":"VvGlc3","r":"29I","v":3},
{"g":"VvAgpL","r":"30I","v":1.8},{"g":"VvEtr","r":"30I","v":1.6},{"g":"VvF3h","r":"30I","v":3},{"g":"VvLox","r":"30I","v":0.15},{"g":"VvOlp","r":"30I","v":1},{"g":"VvAdh1","r":"30I","v":-0.4},{"g":"VvSuSy","r":"30I","v":0.9},
{"g":"VvInv2","r":"35I","v":1.2},{"g":"VvAcyt","r":"35I","v":-3},{"g":"VvAgpL","r":"35I","v":1.1},{"g":"VvHP","r":"35I","v":0.15},{"g":"VvEtr","r":"35I","v":1.2},{"g":"VvF3h","r":"35I","v":1.5},{"g":"VvLox","r":"35I","v":0.1},{"g":"VvOlp","r":"35I","v":1},{"g":"VvSamt","r":"35I","v":0.5},{"g":"VvWrky","r":"35I","v":-0.6},{"g":"VvGlc1","r":"35I","v":-0.1},{"g":"VvGlc2","r":"35I","v":1.4},{"g":"VvGlc3","r":"35I","v":-0.3},
{"g":"VvAcyt","r":"36I","v":1.8},{"g":"VvAgpL","r":"36I","v":0.8},{"g":"VvHP","r":"36I","v":2},{"g":"VvEtr","r":"36I","v":-3},{"g":"VvF3h","r":"36I","v":3},{"g":"VvOlp","r":"36I","v":1.1},{"g":"VvWrky","r":"36I","v":-1.2},{"g":"VvAdh1","r":"36I","v":-0.3},{"g":"VvCko","r":"36I","v":-2.2},{"g":"VvGlc3","r":"36I","v":0.4},
{"g":"VvInv2","r":"37I","v":0.25},{"g":"VvAgpL","r":"37I","v":1},{"g":"VvHP","r":"37I","v":-1},{"g":"VvEtr","r":"37I","v":0.6},{"g":"VvF3h","r":"37I","v":3},{"g":"VvLox","r":"37I","v":-0.8},{"g":"VvOlp","r":"37I","v":0.7},{"g":"VvSamt","r":"37I","v":0.15},{"g":"VvWrky","r":"37I","v":2.3},{"g":"VvAdh1","r":"37I","v":-2},{"g":"VvSuSy","r":"37I","v":-1.5},{"g":"VvGlc1","r":"37I","v":0.4},{"g":"VvGlc2","r":"37I","v":1.8},{"g":"VvGlc3","r":"37I","v":-0.7},
{"g":"VvInv2","r":"38I","v":1.7},{"g":"VvAgpL","r":"38I","v":1.8},{"g":"VvEtr","r":"38I","v":2.3},{"g":"VvF3h","r":"38I","v":3},{"g":"VvLox","r":"38I","v":0.2},{"g":"VvSuSy","r":"38I","v":0.5},
{"g":"VvInv2","r":"41I","v":1.1},{"g":"VvEtr","r":"41I","v":-0.4},{"g":"VvLox","r":"41I","v":0.4},{"g":"VvOlp","r":"41I","v":0.5},{"g":"VvSamt","r":"41I","v":0.8},{"g":"VvSuSy","r":"41I","v":0.6},{"g":"VvCko","r":"41I","v":-1.8},{"g":"VvGlc1","r":"41I","v":2.1},{"g":"VvGlc2","r":"41I","v":1.9},{"g":"VvGlc3","r":"41I","v":-0.7},
{"g":"VvInv2","r":"42I","v":0.3},{"g":"VvHP","r":"42I","v":0.6},{"g":"VvEtr","r":"42I","v":0.05},{"g":"VvF3h","r":"42I","v":3},{"g":"VvLox","r":"42I","v":0.15},{"g":"VvOlp","r":"42I","v":0.6},{"g":"VvSamt","r":"42I","v":0.8},{"g":"VvWrky","r":"42I","v":1.2},{"g":"VvAdh1","r":"42I","v":-1.9},{"g":"VvSuSy","r":"42I","v":0.25},{"g":"VvGlc3","r":"42I","v":3},
{"g":"VvInv2","r":"44I","v":0},{"g":"VvAcyt","r":"44I","v":-2.4},{"g":"VvAgpL","r":"44I","v":1.3},{"g":"VvF3h","r":"44I","v":3},{"g":"VvLox","r":"44I","v":-0.1},{"g":"VvOlp","r":"44I","v":0.9},{"g":"VvWrky","r":"44I","v":2},{"g":"VvAdh1","r":"44I","v":-1.9},{"g":"VvSuSy","r":"44I","v":-0.5},{"g":"VvGlc3","r":"44I","v":1.3},
{"g":"VvAgpL","r":"53I","v":0.5},{"g":"VvHP","r":"53I","v":2},{"g":"VvF3h","r":"53I","v":1.1},{"g":"VvSamt","r":"53I","v":0.15},{"g":"VvWrky","r":"53I","v":1},{"g":"VvSuSy","r":"53I","v":0.4},{"g":"VvCaSy","r":"53I","v":2.5},{"g":"VvCko","r":"53I","v":0.8},{"g":"VvGlc1","r":"53I","v":0.3},{"g":"VvGlc3","r":"53I","v":0.8},
{"g":"VvInv2","r":"54I","v":0.6},{"g":"VvAgpL","r":"54I","v":1},{"g":"VvHP","r":"54I","v":-0.9},{"g":"VvEtr","r":"54I","v":0.6},{"g":"VvF3h","r":"54I","v":3},{"g":"VvLox","r":"54I","v":0.1},{"g":"VvOlp","r":"54I","v":1.1},{"g":"VvSamt","r":"54I","v":0.3},{"g":"VvWrky","r":"54I","v":0.3},{"g":"VvSuSy","r":"54I","v":0},{"g":"VvCko","r":"54I","v":-1.2},{"g":"VvGlc1","r":"54I","v":1.3},{"g":"VvGlc2","r":"54I","v":2.3},
{"g":"VvAgpL","r":"55I","v":1.5},{"g":"VvHP","r":"55I","v":0.2},{"g":"VvEtr","r":"55I","v":2.9},{"g":"VvLox","r":"55I","v":0.25},{"g":"VvOlp","r":"55I","v":1.1},{"g":"VvSamt","r":"55I","v":0.7},{"g":"VvWrky","r":"55I","v":1.2},{"g":"VvAdh1","r":"55I","v":-1.2},{"g":"VvSuSy","r":"55I","v":0.6},{"g":"VvGlc1","r":"55I","v":1.3},{"g":"VvGlc2","r":"55I","v":2.6},{"g":"VvGlc3","r":"55I","v":-1.2},
{"g":"VvInv2","r":"56I","v":0.6},{"g":"VvAcyt","r":"56I","v":-3},{"g":"VvAgpL","r":"56I","v":1.3},{"g":"VvHP","r":"56I","v":-0.4},{"g":"VvEtr","r":"56I","v":1.3},{"g":"VvF3h","r":"56I","v":3},{"g":"VvLox","r":"56I","v":0.2},{"g":"VvOlp","r":"56I","v":0.8},{"g":"VvSamt","r":"56I","v":0.5},{"g":"VvWrky","r":"56I","v":3},{"g":"VvSuSy","r":"56I","v":0.25},{"g":"VvCaSy","r":"56I","v":1.5},{"g":"VvGlc1","r":"56I","v":2},{"g":"VvGlc2","r":"56I","v":2},
{"g":"VvInv2","r":"59I","v":0.7},{"g":"VvAgpL","r":"59I","v":1.1},{"g":"VvEtr","r":"59I","v":2.1},{"g":"VvF3h","r":"59I","v":3},{"g":"VvLox","r":"59I","v":0.15},{"g":"VvOlp","r":"59I","v":0.7},{"g":"VvSamt","r":"59I","v":0.6},{"g":"VvWrky","r":"59I","v":3},{"g":"VvCaSy","r":"59I","v":2.5},{"g":"VvGlc1","r":"59I","v":2.7},{"g":"VvGlc2","r":"59I","v":2.1},{"g":"VvGlc3","r":"59I","v":2.7}]
},
"bounds":"flush","spacing":707,"resolve":{"scale":{"color":"independent"},"legend":{"color":"independent"}},"vconcat":[
{"bounds":"flush","spacing":85,"resolve":{"scale":{"color":"independent"},"legend":{"color":"independent"}},"title":{"text":"First growing season","fontSize":44,"anchor":"middle","dx":7,"dy":55},"hconcat":[
{"width":375,"height":421,"view":{"fill":"#808080"},"title":{"text":"A","fontSize":52,"anchor":"start","frame":"group","dx":-53,"dy":110},"layer":[{"data":{"values":[{}]},"mark":{"type":"rect","fill":null,"stroke":"#666666","strokeWidth":1.2,"cornerRadius":28,"clip":false},"encoding":{"x":{"value":-66},"x2":{"value":876},"y":{"value":-230},"y2":{"value":466}}},{"data":{"name":"A"},"mark":"rect","encoding":{"x":{"field":"g","type":"nominal","sort":null,"scale":{"domain":["VvInv2","VvAcyt","VvAgpL","VvHP","VvEtr","VvF3h","VvLox","VvOlp","VvSamt","VvWrky","VvAdh1","VvSuSy","VvCaSy","VvCko","VvGlc1","VvGlc2","VvGlc3"],"paddingInner":0,"paddingOuter":0},"axis":{"orient":"top"}},"y":{"field":"r","type":"nominal","sort":null,"scale":{"domain":["5H","6H","7H","8H","9H","10H","11H","12H","13H","14H","15H","16H","17H","18H","19H","20H","23H","24H","27H","28H","31H","32H","49H","50H","52H","58H"],"paddingInner":0,"paddingOuter":0},"axis":{"orient":"right"}},"color":{"field":"v","type":"quantitative","scale":{"domain":[-3,0,3],"range":["#0000ff","#000000","#ffff00"],"interpolate":"rgb"},"legend":{"legendX":0,"legendY":-137,"labelOffset":7,"values":[-3,0,3],"labelExpr":"datum.value==0?'0':datum.value<0?'-3.0':'+3.0'"}}}}]},
{"width":375,"height":421,"view":{"fill":"#808080"},"title":{"text":"B","fontSize":52,"anchor":"start","frame":"group","dx":-47,"dy":12},"data":{"name":"B"},"mark":"rect","encoding":{"x":{"field":"g","type":"nominal","sort":null,"scale":{"domain":["VvInv2","VvAcyt","VvAgpL","VvHP","VvEtr","VvF3h","VvLox","VvOlp","VvSamt","VvWrky","VvAdh1","VvSuSy","VvCaSy","VvCko","VvGlc1","VvGlc2","VvGlc3"],"paddingInner":0,"paddingOuter":0},"axis":{"orient":"top"}},"y":{"field":"r","type":"nominal","sort":null,"scale":{"domain":["29H","40H","3I","4I","30I","33I","34I","35I","36I","37I","38I","39I","41I","42I","43I","44I","45I","46I","51I","53I","54I","55I","56I","57I","59I","60 I"],"paddingInner":0,"paddingOuter":0},"axis":{"orient":"right","labelColor":{"expr":"indexof(['29H','40H'],datum.value)>=0?'#d03030':'#1a1a1a'"}}},"color":{"field":"v","type":"quantitative","scale":{"domain":[-3,0,3],"range":["#0000ff","#000000","#ffff00"],"interpolate":"rgb"},"legend":{"legendX":0,"legendY":-135,"labelOffset":4,"values":[-3,0,3],"labelExpr":"datum.value==0?'0':datum.value<0?'-3.0':'+3.0'"}}}}]},
{"bounds":"flush","spacing":85,"resolve":{"scale":{"color":"independent"},"legend":{"color":"independent"}},"title":{"text":"Second growing season","fontSize":44,"anchor":"middle","dx":7,"dy":58},"hconcat":[
{"width":375,"height":569,"view":{"fill":"#808080"},"title":{"text":"C","fontSize":52,"anchor":"start","frame":"group","dx":-53,"dy":114},"layer":[{"data":{"values":[{}]},"mark":{"type":"rect","fill":null,"stroke":"#666666","strokeWidth":1.2,"cornerRadius":28,"clip":false},"encoding":{"x":{"value":-66},"x2":{"value":876},"y":{"value":-229},"y2":{"value":600}}},{"data":{"name":"C"},"mark":"rect","encoding":{"x":{"field":"g","type":"nominal","sort":null,"scale":{"domain":["VvInv2","VvAcyt","VvAgpL","VvHP","VvEtr","VvF3h","VvLox","VvOlp","VvSamt","VvWrky","VvAdh1","VvSuSy","VvCaSy","VvCko","VvGlc1","VvGlc2","VvGlc3"],"paddingInner":0,"paddingOuter":0},"axis":{"orient":"top"}},"y":{"field":"r","type":"nominal","sort":null,"scale":{"domain":["4H","5H","6H","7H","8H","9H","10H","11H","12H","13H","15H","16H","17H","18H","19H","20H","23H","27H","28H","31H","32H","33H","34H","39H","40H","43H","45H","46H","49H","50H","51H","52H","57H","58H","60H"],"paddingInner":0,"paddingOuter":0},"axis":{"orient":"right"}},"color":{"field":"v","type":"quantitative","scale":{"domain":[-3,0,3],"range":["#0000ff","#000000","#ffff00"],"interpolate":"rgb"},"legend":{"legendX":0,"legendY":-128,"labelOffset":3,"values":[-3,0,3],"labelExpr":"datum.value==0?'0':datum.value<0?'-3.0':'+3.0'"}}}}]},
{"width":375,"height":276,"view":{"fill":null},"title":{"text":"D","fontSize":52,"anchor":"start","frame":"group","dx":-47,"dy":13},"layer":[{"data":{"values":[{}]},"mark":{"type":"rect","fill":"#808080"},"encoding":{"x":{"value":0},"x2":{"value":375},"y":{"value":-3},"y2":{"value":273}}},{"data":{"name":"D"},"mark":"rect","encoding":{"x":{"field":"g","type":"nominal","sort":null,"scale":{"domain":["VvInv2","VvAcyt","VvAgpL","VvHP","VvEtr","VvF3h","VvLox","VvOlp","VvSamt","VvWrky","VvAdh1","VvSuSy","VvCaSy","VvCko","VvGlc1","VvGlc2","VvGlc3"],"paddingInner":0,"paddingOuter":0},"axis":{"orient":"top","offset":3}},"y":{"field":"r","type":"nominal","sort":null,"scale":{"domain":["14H","24H","3I","29I","30I","35I","36I","37I","38I","41I","42I","44I","53I","54I","55I","56I","59I"],"range":[-3,273],"paddingInner":0,"paddingOuter":0},"axis":{"orient":"right","labelPadding":5,"labelColor":{"expr":"indexof(['14H','24H'],datum.value)>=0?'#d03030':'#1a1a1a'"}}},"color":{"field":"v","type":"quantitative","scale":{"domain":[-3,0,3],"range":["#0000ff","#000000","#ffff00"],"interpolate":"rgb"},"legend":{"legendX":0,"legendY":-132,"labelOffset":3,"values":[-3,0,3],"labelExpr":"datum.value==0?'0':datum.value<0?'-3.0':'+3.0'"}}}}]}]}]}
